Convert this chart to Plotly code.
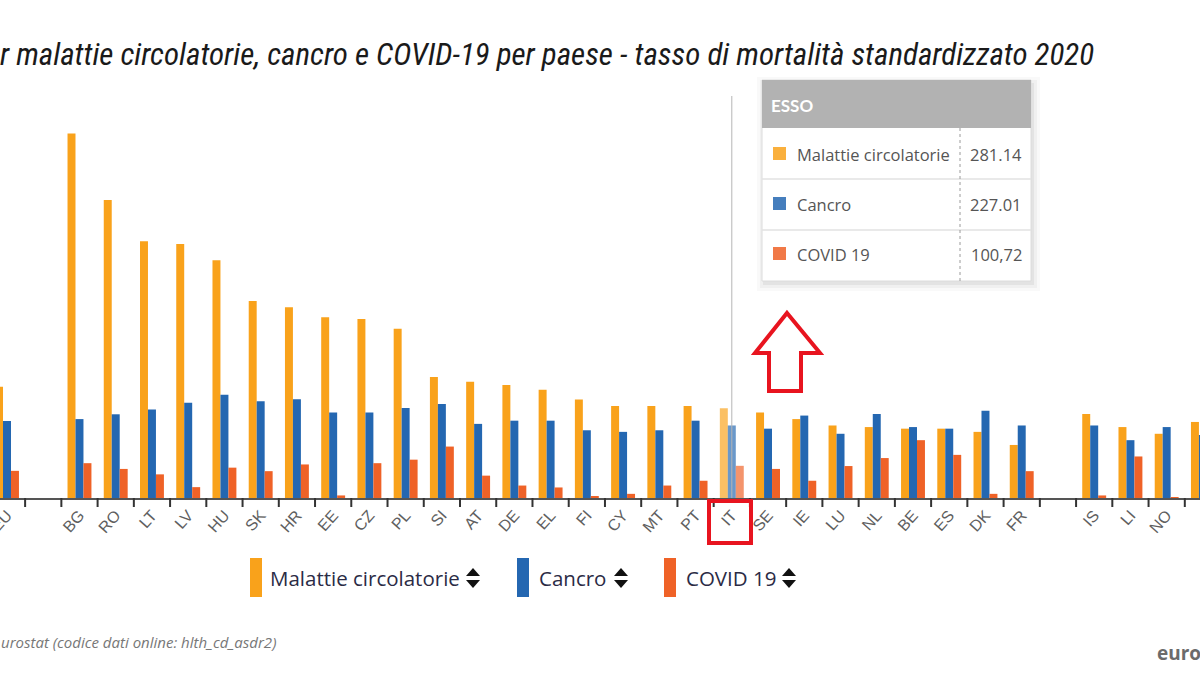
import plotly.graph_objects as go

# ---------------- data ----------------
categories = ["EU", " ", "BG", "RO", "LT", "LV", "HU", "SK", "HR", "EE", "CZ", "PL",
              "SI", "AT", "DE", "EL", "FI", "CY", "MT", "PT", "IT", "SE", "IE", "LU",
              "NL", "BE", "ES", "DK", "FR", "  ", "IS", "LI", "NO", "CH"]
series_names = ["Malattie circolatorie", "Cancro", "COVID 19"]
circolatorie = [348, None, 1141, 933, 804, 795, 744, 617, 597, 566, 560, 530,
                379, 364, 354, 339, 308, 288, 288, 288, 281.14, 268, 247, 227,
                222, 217, 217, 207, 166, None, 263, 222, 201, 238]
cancro = [241, None, 247, 262, 277, 298, 323, 303, 309, 268, 268, 282,
          294, 232, 242, 242, 212, 207, 212, 242, 227.01, 217, 258, 201,
          263, 222, 217, 273, 227, None, 227, 181, 222, 197]
covid = [85, None, 109, 91, 74, 34, 95, 84, 105, 8, 109, 120,
         161, 70, 39, 33, 4, 13, 39, 54, 100.72, 91, 54, 100,
         125, 181, 135, 13, 84, None, 8, 130, 3, 60]
highlight = "IT"
tooltip_title = "ESSO"
tooltip_decimal_sep = [".", ".", ","]
title_text = "r malattie circolatorie, cancro e COVID-19 per paese - tasso di mortalità standardizzato 2020"
source_text = "urostat (codice dati online: hlth_cd_asdr2)"
logo_text = "euro"

# ---------------- styling ----------------
colors = ["#F9A21B", "#2467B1", "#EF6227"]
W, H = 1200, 675
PLOT_TOP, PLOT_BOTTOM = 100, 498
STEP = 36.24          # pixels per category
X0_PX = 7             # pixel centre of first category
UNITS_PER_PX = 3.13

def X(px):
    return px / W

def Y(py):
    return (PLOT_BOTTOM - py) / (PLOT_BOTTOM - PLOT_TOP)

idx = list(range(len(categories)))
hi_idx = categories.index(highlight)

fig = go.Figure()
for name, vals, col in zip(series_names, [circolatorie, cancro, covid], colors):
    fig.add_trace(go.Bar(
        x=idx, y=vals, name=name,
        marker=dict(color=col, line=dict(width=0),
                    opacity=[0.68 if i == hi_idx else 1 for i in idx]),
        showlegend=False, hoverinfo="skip"))

xr0 = -X0_PX / STEP
xr1 = xr0 + W / STEP
tickvals = [i for i, c in enumerate(categories) if c.strip()]
ticktext = [c for c in categories if c.strip()]

def cat_to_paper(v):
    # category index -> paper coordinate (same linear mapping as the x axis range)
    return (v - xr0) / (xr1 - xr0)

fig.update_layout(
    width=W, height=H,
    margin=dict(l=0, r=0, t=PLOT_TOP, b=H - PLOT_BOTTOM, autoexpand=False),
    paper_bgcolor="white", plot_bgcolor="white",
    barmode="group", bargap=0.34, bargroupgap=0,
    template="none",
    xaxis=dict(range=[xr0, xr1], tickmode="array", tickvals=tickvals, ticktext=ticktext,
               ticks="", tickangle=-48, automargin=False, ticklabeloverflow="allow",
               tickfont=dict(family="Liberation Sans, Arial", size=16, color="#5f5f5f"),
               showgrid=False, zeroline=False, showline=True, linecolor="#555", linewidth=1.5),
    yaxis=dict(range=[0, (PLOT_BOTTOM - PLOT_TOP) * UNITS_PER_PX], visible=False, automargin=False),
)

shapes = []
annotations = []

# category boundary tick marks (thin filled rectangles)
for i in range(len(categories) + 1):
    xp = cat_to_paper(i - 0.5)
    shapes.append(dict(type="rect", xref="paper", yref="paper",
                       x0=xp - X(1), x1=xp + X(1),
                       y0=Y(PLOT_BOTTOM + 9), y1=Y(PLOT_BOTTOM),
                       fillcolor="#333", line=dict(width=0), layer="above"))

# hover line through the highlighted category
shapes.append(dict(type="line", xref="x", yref="paper", x0=hi_idx, x1=hi_idx,
                   y0=0, y1=Y(96), line=dict(color="#b5b5b5", width=1), layer="above"))

# tooltip box
BL, BR, BT, BB = 762, 1031, 80, 281
for d, a in [(8, 0.025), (5, 0.035), (2, 0.05)]:
    shapes.append(dict(type="rect", xref="paper", yref="paper",
                       x0=X(BL - d + 3), x1=X(BR + d + 1), y0=Y(BB + d + 2), y1=Y(BT - d + 5),
                       fillcolor=f"rgba(0,0,0,{a})", line=dict(width=0), layer="above"))
shapes.append(dict(type="rect", xref="paper", yref="paper", x0=X(BL), x1=X(BR), y0=Y(BB), y1=Y(BT),
                   fillcolor="white", line=dict(color="#dcdcdc", width=1), layer="above"))
shapes.append(dict(type="rect", xref="paper", yref="paper", x0=X(BL), x1=X(BR), y0=Y(128), y1=Y(BT),
                   fillcolor="#b2b2b2", line=dict(width=0), layer="above"))
for yy in (179, 230):
    shapes.append(dict(type="line", xref="paper", yref="paper", x0=X(BL), x1=X(BR), y0=Y(yy), y1=Y(yy),
                       line=dict(color="#e2e2e2", width=1.5), layer="above"))
shapes.append(dict(type="line", xref="paper", yref="paper", x0=X(960), x1=X(960), y0=Y(128), y1=Y(BB),
                   line=dict(color="#9a9a9a", width=1, dash="dot"), layer="above"))
annotations.append(dict(xref="paper", yref="paper", x=X(769), y=Y(105), xanchor="left", yanchor="middle",
                        text=f"<b>{tooltip_title}</b>", showarrow=False,
                        font=dict(family="Lato", size=17, color="white")))
hi_vals = [circolatorie[hi_idx], cancro[hi_idx], covid[hi_idx]]
for k, (name, v, col, sep) in enumerate(zip(series_names, hi_vals, colors, tooltip_decimal_sep)):
    cy = 154 + 50 * k
    shapes.append(dict(type="rect", xref="paper", yref="paper", x0=X(773), x1=X(786),
                       y0=Y(cy + 6), y1=Y(cy - 7), fillcolor=col, opacity=0.85,
                       line=dict(width=0), layer="above"))
    annotations.append(dict(xref="paper", yref="paper", x=X(795), y=Y(cy), xanchor="left",
                            yanchor="middle", text=name, showarrow=False,
                            font=dict(family="Open Sans", size=16.5, color="#555")))
    annotations.append(dict(xref="paper", yref="paper", x=X(1024), y=Y(cy), xanchor="right",
                            yanchor="middle", text=f"{v:.2f}".replace(".", sep), showarrow=False,
                            font=dict(family="Open Sans", size=16.5, color="#555")))

# red arrow pointing at tooltip
arrow_pts = [(787, 313), (820, 353), (801, 353), (801, 391), (769, 391), (769, 353), (755, 353)]
path = "M " + " L ".join(f"{X(a)},{Y(b)}" for a, b in arrow_pts) + " Z"
shapes.append(dict(type="path", xref="paper", yref="paper", path=path,
                   fillcolor="white", line=dict(color="#E8141F", width=4), layer="above"))

# red box around highlighted tick label
shapes.append(dict(type="rect", xref="paper", yref="paper", x0=X(709), x1=X(751), y0=Y(543), y1=Y(501),
                   line=dict(color="#E8141F", width=4), fillcolor="rgba(0,0,0,0)", layer="above"))

# custom legend
legend_items = [(250, 268, 466), (517, 537, 614), (664, 684, 782)]
for (rx, tx, ax), name, col in zip(legend_items, series_names, colors):
    shapes.append(dict(type="rect", xref="paper", yref="paper", x0=X(rx), x1=X(rx + 12),
                       y0=Y(597), y1=Y(558), fillcolor=col, line=dict(width=0), layer="above"))
    annotations.append(dict(xref="paper", yref="paper", x=X(tx), y=Y(578), xanchor="left",
                            yanchor="middle", text=name, showarrow=False,
                            font=dict(family="Open Sans", size=20.5, color="#2b2b45")))
    up = f"M {X(ax)},{Y(576)} L {X(ax + 14)},{Y(576)} L {X(ax + 7)},{Y(568)} Z"
    dn = f"M {X(ax)},{Y(580)} L {X(ax + 14)},{Y(580)} L {X(ax + 7)},{Y(588)} Z"
    for p in (up, dn):
        shapes.append(dict(type="path", xref="paper", yref="paper", path=p,
                           fillcolor="#111", line=dict(width=0), layer="above"))

# title, source, logo
annotations.append(dict(xref="paper", yref="paper", x=X(-2), y=Y(54), xanchor="left", yanchor="middle",
                        text=title_text, showarrow=False,
                        font=dict(family="Roboto Condensed, Liberation Sans Narrow, Roboto", size=31,
                                  color="#1a1a1a", style="italic")))
annotations.append(dict(xref="paper", yref="paper", x=X(-1), y=Y(642), xanchor="left", yanchor="middle",
                        text=source_text, showarrow=False,
                        font=dict(family="Open Sans", size=15, color="#777", style="italic")))
annotations.append(dict(xref="paper", yref="paper", x=X(1155), y=Y(653), xanchor="left", yanchor="middle",
                        text=f"<b>{logo_text}</b>", showarrow=False,
                        font=dict(family="Open Sans", size=19, color="#6b6b6b")))

fig.update_layout(shapes=shapes, annotations=annotations)
fig.write_html("out.html")
